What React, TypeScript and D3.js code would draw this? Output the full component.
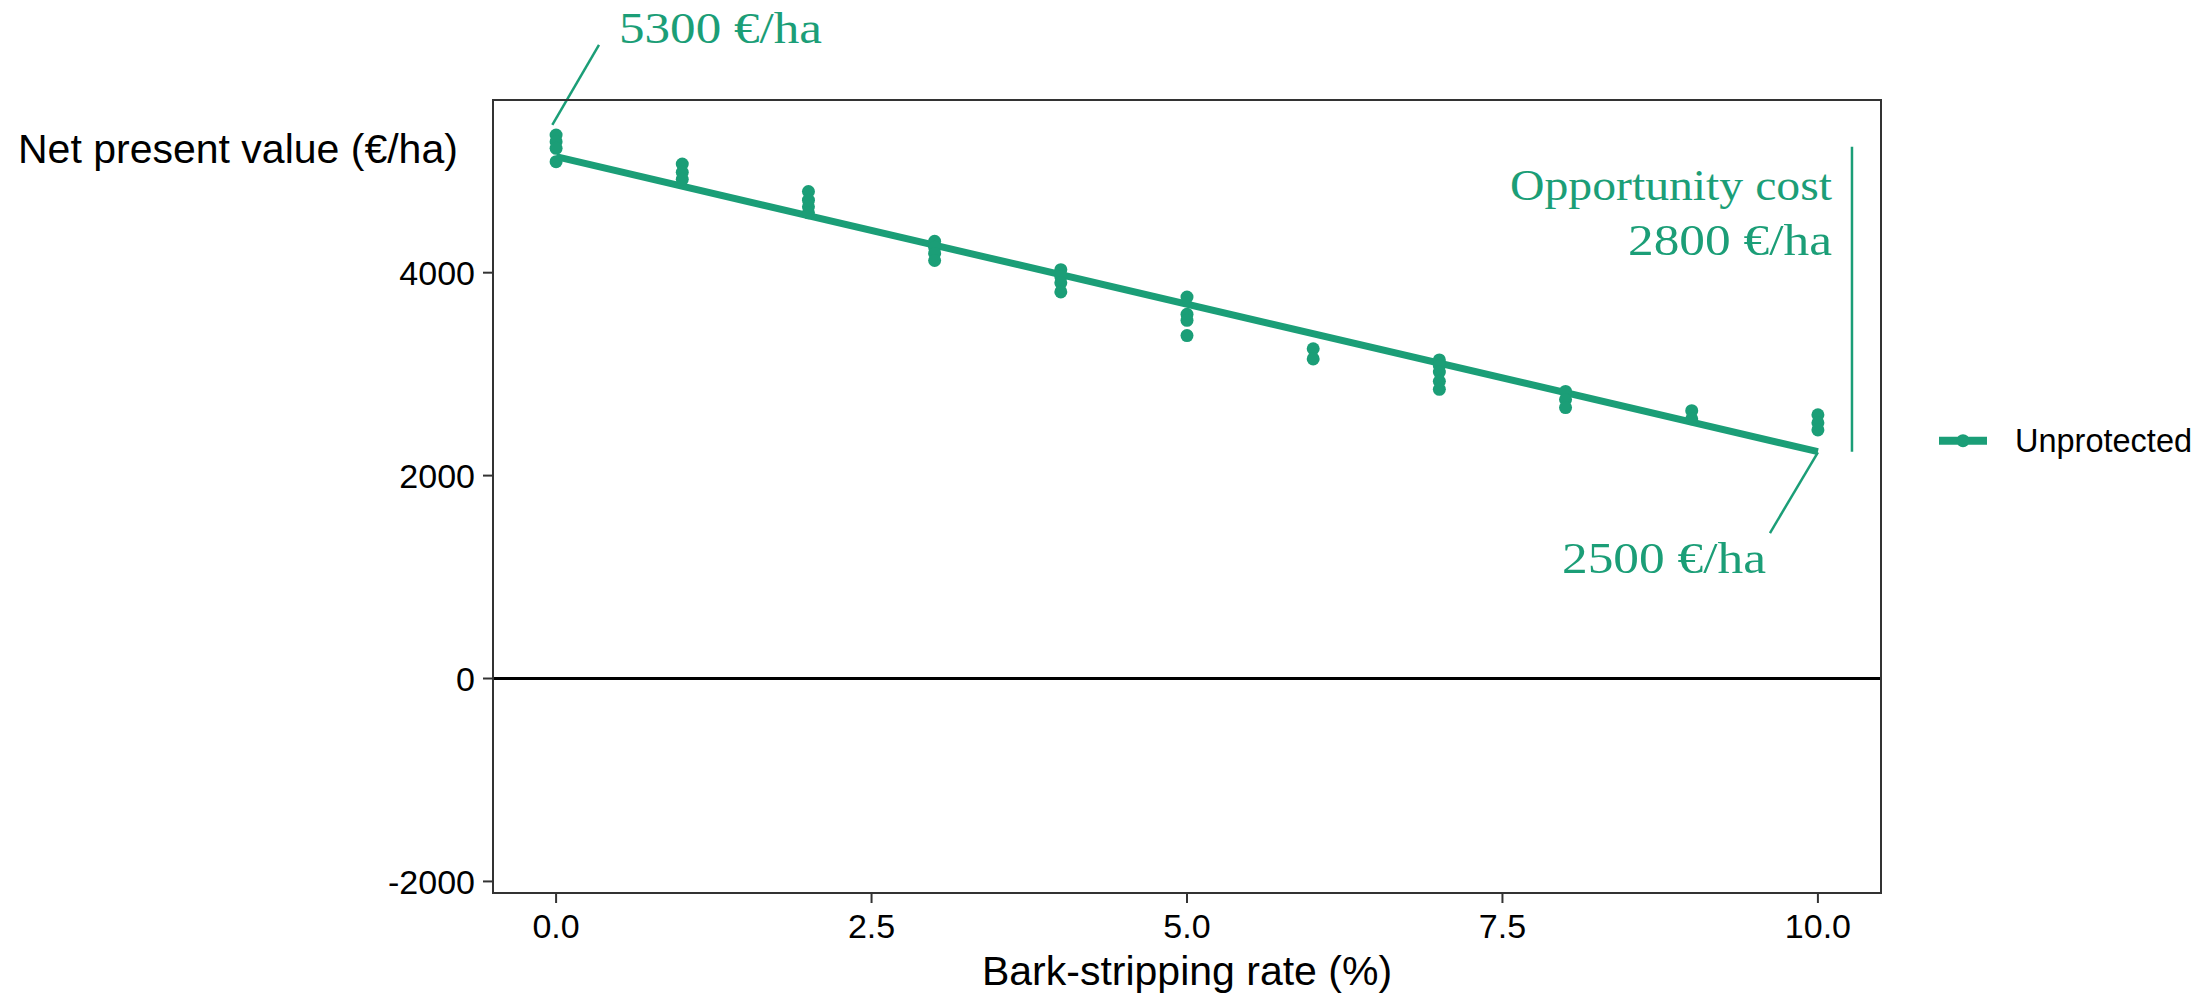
import React from "react";
import * as d3 from "d3";

// ---- data ----
const barkRates = [
  0, 0, 0, 0,
  1, 1, 1,
  2, 2, 2, 2,
  3, 3, 3, 3,
  4, 4, 4, 4,
  5, 5, 5, 5,
  6, 6,
  7, 7, 7, 7, 7,
  8, 8, 8,
  9, 9,
  10, 10, 10,
];
const npvValues = [
  5357, 5291, 5226, 5094,
  5070, 4990, 4920,
  4800, 4715, 4650, 4590,
  4310, 4250, 4190, 4120,
  4030, 3960, 3900, 3810,
  3760, 3590, 3530, 3380,
  3250, 3150,
  3140, 3080, 3020, 2930, 2850,
  2830, 2750, 2670,
  2640, 2560,
  2600, 2520, 2450,
];
const fitRates = [0, 10];
const fitValues = [5143, 2236];

const xTicks = [0, 2.5, 5, 7.5, 10];
const yTicks = [-2000, 0, 2000, 4000];

const seriesName = "Unprotected";
const xTitle = "Bark-stripping rate (%)";
const yTitle = "Net present value (€/ha)";
const labelTop = "5300 €/ha";
const labelBottom = "2500 €/ha";
const labelCost1 = "Opportunity cost";
const labelCost2 = "2800 €/ha";

const GREEN = "#1b9e77";
const SANS = "'Liberation Sans', Arial, Helvetica, sans-serif";
const SERIF = "'Liberation Serif', 'Times New Roman', serif";

export default function App() {
  const W = 2212;
  const H = 996;
  const panel = { left: 493, right: 1881, top: 100, bottom: 893 };

  const x = d3.scaleLinear().domain([-0.5, 10.5]).range([panel.left, panel.right]);
  const y = d3.scaleLinear().domain([-2114, 5702]).range([panel.bottom, panel.top]);

  const points = barkRates.map((r, i) => ({ r, v: npvValues[i] }));
  const fitLine = d3
    .line<number>()
    .x((_, i) => x(fitRates[i]))
    .y((d) => y(d))(fitValues) as string;

  const annotTopLeader = { x1: -0.03, y1: 5456, x2: 0.34, y2: 6245 };
  const costLine = { x: 10.27, y1: 5240, y2: 2234 };
  const bottomLeader = { x1: 10, y1: 2230, x2: 9.62, y2: 1434 };

  return (
    <svg
      width={W}
      height={H}
      style={{ position: "absolute", left: 0, top: 0, background: "#fff" }}
    >
      <rect x={0} y={0} width={W} height={H} fill="#fff" />

      {/* zero line */}
      <line
        x1={panel.left}
        x2={panel.right}
        y1={y(0)}
        y2={y(0)}
        stroke="#000"
        strokeWidth={3}
      />

      {/* fit line */}
      <path d={fitLine} fill="none" stroke={GREEN} strokeWidth={7} />

      {/* points */}
      {points.map((p, i) => (
        <circle key={i} cx={x(p.r)} cy={y(p.v)} r={6.5} fill={GREEN} />
      ))}

      {/* annotations */}
      <line
        x1={x(annotTopLeader.x1)}
        y1={y(annotTopLeader.y1)}
        x2={x(annotTopLeader.x2)}
        y2={y(annotTopLeader.y2)}
        stroke={GREEN}
        strokeWidth={2.5}
      />
      <text
        x={619}
        y={42.7}
        fill={GREEN}
        fontFamily={SERIF}
        fontSize={45}
        textLength={203}
        lengthAdjust="spacingAndGlyphs"
      >
        {labelTop}
      </text>

      <line
        x1={x(costLine.x)}
        x2={x(costLine.x)}
        y1={y(costLine.y1)}
        y2={y(costLine.y2)}
        stroke={GREEN}
        strokeWidth={2.5}
      />
      <text
        x={1832}
        y={200}
        fill={GREEN}
        fontFamily={SERIF}
        fontSize={45}
        textAnchor="end"
        textLength={322}
        lengthAdjust="spacingAndGlyphs"
      >
        {labelCost1}
      </text>
      <text
        x={1832}
        y={255}
        fill={GREEN}
        fontFamily={SERIF}
        fontSize={45}
        textAnchor="end"
        textLength={204}
        lengthAdjust="spacingAndGlyphs"
      >
        {labelCost2}
      </text>

      <line
        x1={x(bottomLeader.x1)}
        y1={y(bottomLeader.y1)}
        x2={x(bottomLeader.x2)}
        y2={y(bottomLeader.y2)}
        stroke={GREEN}
        strokeWidth={2.5}
      />
      <text
        x={1562}
        y={573}
        fill={GREEN}
        fontFamily={SERIF}
        fontSize={45}
        textLength={204}
        lengthAdjust="spacingAndGlyphs"
      >
        {labelBottom}
      </text>

      {/* panel border */}
      <rect
        x={panel.left}
        y={panel.top}
        width={panel.right - panel.left}
        height={panel.bottom - panel.top}
        fill="none"
        stroke="#333"
        strokeWidth={2}
      />

      {/* y axis */}
      {yTicks.map((t) => (
        <g key={t}>
          <line
            x1={panel.left - 10}
            x2={panel.left}
            y1={y(t)}
            y2={y(t)}
            stroke="#333"
            strokeWidth={2}
          />
          <text
            x={475}
            y={y(t)}
            dy="0.36em"
            textAnchor="end"
            fontFamily={SANS}
            fontSize={34}
            fill="#000"
          >
            {t}
          </text>
        </g>
      ))}

      {/* x axis */}
      {xTicks.map((t) => (
        <g key={t}>
          <line
            x1={x(t)}
            x2={x(t)}
            y1={panel.bottom}
            y2={panel.bottom + 10}
            stroke="#333"
            strokeWidth={2}
          />
          <text
            x={x(t)}
            y={938}
            textAnchor="middle"
            fontFamily={SANS}
            fontSize={34}
            fill="#000"
          >
            {d3.format(".1f")(t)}
          </text>
        </g>
      ))}

      {/* axis titles */}
      <text
        x={(panel.left + panel.right) / 2}
        y={985}
        textAnchor="middle"
        fontFamily={SANS}
        fontSize={41}
        fill="#000"
      >
        {xTitle}
      </text>
      <text x={18} y={162.7} fontFamily={SANS} fontSize={41} fill="#000">
        {yTitle}
      </text>

      {/* legend */}
      <g>
        <line x1={1939} x2={1987} y1={440.7} y2={440.7} stroke={GREEN} strokeWidth={8} />
        <circle cx={1963} cy={440.7} r={6.5} fill={GREEN} />
        <text x={2015} y={451.7} fontFamily={SANS} fontSize={32.5} fill="#000">
          {seriesName}
        </text>
      </g>
    </svg>
  );
}
